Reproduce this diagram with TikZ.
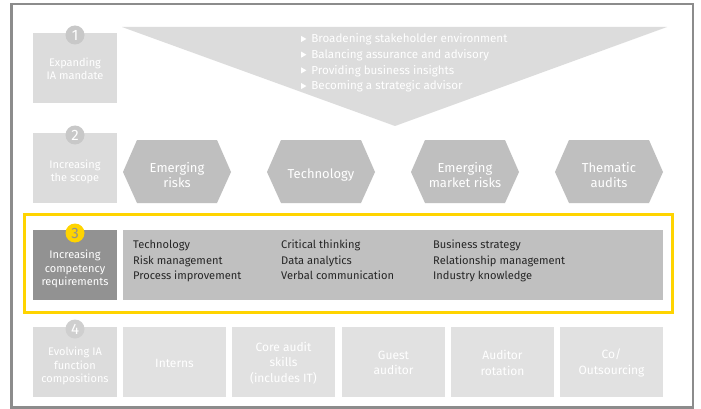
\documentclass[tikz,border=0pt]{standalone}
\usepackage{fontspec}
\setmainfont{Fira Sans}
\usetikzlibrary{positioning}
\definecolor{frame}{HTML}{8C8C8C}
\definecolor{lightbox}{HTML}{DCDCDC}
\definecolor{lighterbox}{HTML}{E1E1E1}
\definecolor{hexgray}{HTML}{BFBFBF}
\definecolor{darkbox}{HTML}{929292}
\definecolor{listbox}{HTML}{C0C0C0}
\definecolor{circgray}{HTML}{C8C8C8}
\definecolor{circlight}{HTML}{CFCFCF}
\definecolor{eyyellow}{HTML}{FFD400}
\definecolor{listtext}{HTML}{262626}
\newcommand{\bul}{\tikz[x=1pt,y=1pt,baseline=0pt]\fill[white] (0,0.8) -- (0,6.8) -- (5.2,3.8) -- cycle;\hspace{5pt}}
\tikzset{
  labelbox/.style={fill=lightbox, draw=none, minimum width=84pt, minimum height=70pt, anchor=north west, inner sep=0pt},
  boxtext/.style={text=white, font=\fontsize{11}{13.2}\selectfont, align=center},
  numcirc/.style={circle, fill=circgray, minimum size=19pt, inner sep=0pt, text=white, font=\fontsize{15}{15}\selectfont},
  hextext/.style={text=white, font=\fontsize{13}{15.5}\selectfont, align=center},
  compbox/.style={fill=lighterbox, draw=none, minimum width=103pt, minimum height=70pt, anchor=north west, inner sep=0pt},
  bullettext/.style={text=white, font=\fontsize{11.6}{15.7}\selectfont, align=left, anchor=north west, inner sep=0pt},
  listtxt/.style={text=listtext, font=\fontsize{11.1}{15.5}\selectfont, align=left, anchor=north west, inner sep=0pt},
}
\begin{document}
\begin{tikzpicture}[x=1pt,y=-1pt]
\useasboundingbox (0,0) rectangle (701,409);
\fill[white] (0,0) rectangle (701,409);
% outer frame
\draw[frame, line width=2.2pt] (11.5,4) rectangle (693,407.5);

% Row 1
\node[labelbox] (b1) at (33,33) {};
\node[boxtext] (b1t) at (75,69) {Expanding\\IA mandate};
\node[numcirc] (c1) at (75,35) {1};
\fill[lightbox] (122,27) -- (667,27) -- (395,126) -- cycle;
\node[bullettext] (bl) at (301,33.5) {\bul Broadening stakeholder environment\\
\bul Balancing assurance and advisory\\
\bul Providing business insights\\
\bul Becoming a strategic advisor};

% Row 2
\node[labelbox] (b2) at (33,133) {};
\node[boxtext] (b2t) at (75,172) {Increasing\\the scope};
\node[numcirc] (c2) at (75,135) {2};
\foreach \x/\t [count=\i] in {123/{Emerging\\risks}, 267/{Technology}, 411/{Emerging\\market risks}, 555/{Thematic\\audits}}{
  \fill[hexgray] (\x,172) -- (\x+14,140) -- (\x+94,140) -- (\x+108,172) -- (\x+94,203) -- (\x+14,203) -- cycle;
  \node[hextext] (h\i) at (\x+54,175) {\t};
}

% Row 3
\draw[eyyellow, line width=3pt] (24.5,214.5) rectangle (672,312);
\node[labelbox, fill=darkbox] (b3) at (33,230) {};
\node[boxtext] (b3t) at (75,269) {Increasing\\competency\\requirements};
\node[numcirc, fill=eyyellow, text=darkbox] (c3) at (75,233) {3};
\node[fill=listbox, minimum width=540pt, minimum height=70pt, anchor=north west, inner sep=0pt] (lst) at (123,230) {};
\node[listtxt] (l1) at (133,240) {Technology\\Risk management\\Process improvement};
\node[listtxt] (l2) at (281,240) {Critical thinking\\Data analytics\\Verbal communication};
\node[listtxt] (l3) at (433,240) {Business strategy\\Relationship management\\Industry knowledge};

% Row 4
\node[labelbox] (b4) at (33,327) {};
\node[boxtext] (b4t) at (75,366) {Evolving IA\\function\\compositions};
\node[numcirc, fill=circlight] (c4) at (75,329) {4};
\foreach \x/\t [count=\i] in {123/{Interns}, 232/{Core audit\\skills\\(includes IT)}, 342/{Guest\\auditor}, 451/{Auditor\\rotation}, 560/{Co/\\Outsourcing}}{
  \node[compbox] (k\i) at (\x,327) {};
  \node[boxtext, font=\fontsize{12}{15.5}\selectfont] (kt\i) at (\x+51.5,363) {\t};
}
\end{tikzpicture}
\end{document}
